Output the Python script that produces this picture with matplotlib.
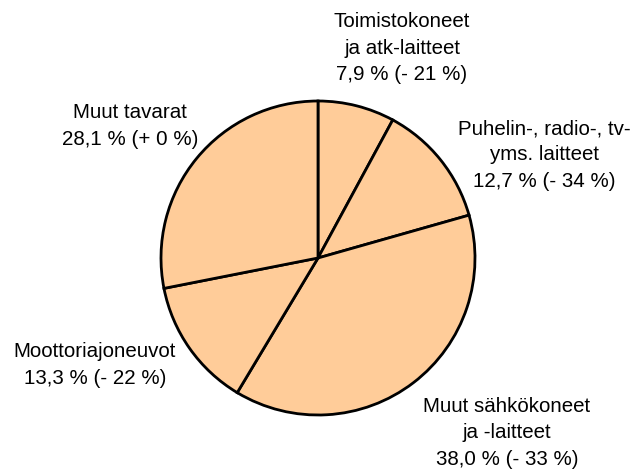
import matplotlib
matplotlib.use("Agg")
import matplotlib.pyplot as plt

categories = ["Toimistokoneet\nja atk-laitteet", "Puhelin-, radio-, tv-\nyms. laitteet",
              "Muut sähkökoneet\nja -laitteet", "Moottoriajoneuvot", "Muut tavarat"]
shares = [7.9, 12.7, 38.0, 13.3, 28.1]
changes = ["- 21 %", "- 34 %", "- 33 %", "- 22 %", "+ 0 %"]

plt.rcParams['font.family'] = ['Liberation Sans', 'DejaVu Sans']

W, H = 637, 470
fig = plt.figure(figsize=(W/100, H/100), dpi=100)
cx, cy, r = 318, 258, 157
ax = fig.add_axes([(cx - r)/W, (H - cy - r)/H, 2*r/W, 2*r/H])
ax.pie(shares, startangle=90, counterclock=False, colors=["#FFCC99"]*len(shares),
       wedgeprops=dict(edgecolor="black", linewidth=2), radius=1.0)
ax.set_xlim(-1, 1)
ax.set_ylim(-1, 1)
ax.set_aspect('equal')
ax.axis('off')

label_pos = [(402, 48), (544, 155), (507, 433), (95, 365), (130, 126)]
for cat, s, ch, (px, py) in zip(categories, shares, changes, label_pos):
    num = f"{s:.1f}".replace(".", ",")
    txt = f"{cat}\n{num} % ({ch})"
    fig.text(px/W, 1 - py/H, txt, ha='center', va='center', fontsize=14.8,
             linespacing=1.48)

fig.savefig("out.png", dpi=100)
